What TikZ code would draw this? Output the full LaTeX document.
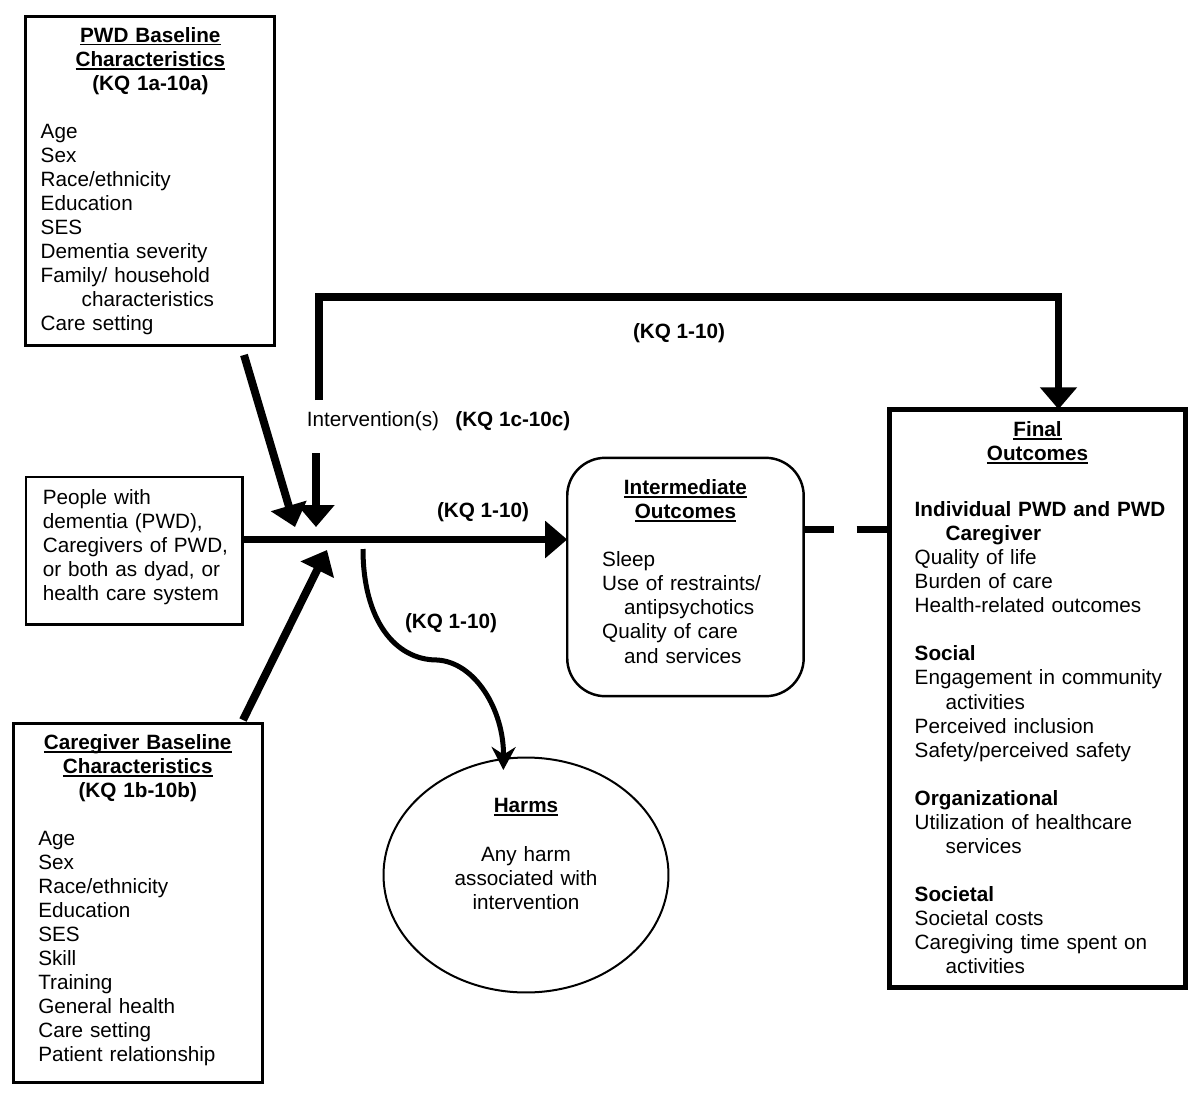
\documentclass[tikz,border=0pt]{standalone}
\usepackage{fontspec}
\setmainfont{Liberation Sans}
\usetikzlibrary{arrows.meta}
\usetikzlibrary{shapes.geometric}

\newcommand{\figfont}{\fontsize{11.78pt}{13.68pt}\selectfont}
\newcommand{\ulbold}[1]{\leavevmode\setbox0\hbox{\bfseries #1}\rlap{\rule[-1.9pt]{\wd0}{1.1pt}}\box0}
\newcommand{\padbelow}[1]{\rule[-#1]{0pt}{0pt}\par} % pushes the text up in its box

\tikzset{
  box/.style={draw, line width=1.7pt, inner sep=0pt, outer sep=0pt, font=\figfont},
  heavy/.style={line width=4.5pt, -{Triangle[length=0.44cm,width=0.72cm]}},
  harmflow/.style={line width=2.85pt, -{Stealth[length=0.46cm,width=0.48cm,inset=0.15cm]}, shorten >=-0.22cm},
  kq/.style={font=\figfont\bfseries, inner sep=0pt, anchor=base},
}

\begin{document}
\begin{tikzpicture}[x=0.02cm, y=-0.02cm]

  \fill[white] (0,0) rectangle (1200,1092);
  \useasboundingbox (0,0) rectangle (1200,1092);

  % boxes
  \node[box, minimum width=4.986cm, minimum height=6.572cm, text width=4.986cm] (pwd) at (150.35,181) {%
    {\centering\ulbold{PWD Baseline}\\ \ulbold{Characteristics}\\ \textbf{(KQ 1a-10a)}\par}
    \vspace{\baselineskip}
    \raggedright\leftskip=0.30cm
    Age\\ Sex\\ Race/ethnicity\\ Education\\ SES\\ Dementia severity\\ Family/ household\\
    \hspace*{0.82cm}characteristics\\ Care setting\par};

  \node[box, line width=1.5pt, minimum width=4.33cm, minimum height=2.954cm, text width=4.33cm] (people) at (134.05,550.85) {%
    \raggedright\leftskip=0.34cm
    People with\\ dementia (PWD),\\ Caregivers of PWD,\\ or both as dyad, or\\ health care system\padbelow{0.232cm}};

  \node[box, minimum width=4.978cm, minimum height=7.188cm, text width=4.978cm] (carer) at (137.75,903) {%
    {\centering\ulbold{Caregiver Baseline}\\ \ulbold{Characteristics}\\ \textbf{(KQ 1b-10b)}\par}
    \vspace{\baselineskip}
    \raggedright\leftskip=0.50cm
    Age\\ Sex\\ Race/ethnicity\\ Education\\ SES\\ Skill\\ Training\\ General health\\ Care setting\\ Patient relationship\padbelow{0.194cm}};

  \node[box, line width=1.4pt, rounded corners=0.76cm, minimum width=4.73cm, minimum height=4.768cm, text width=4.73cm] (inter) at (685.45,577) {%
    {\centering\ulbold{Intermediate}\\ \ulbold{Outcomes}\par}
    \vspace{\baselineskip}
    \raggedright\leftskip=0.70cm
    Sleep\\ Use of restraints/\\ \hspace*{0.44cm}antipsychotics\\ Quality of care\\ \hspace*{0.44cm}and services\padbelow{0.224cm}};

  \node[box, line width=2.85pt, minimum width=5.932cm, minimum height=11.572cm, text width=5.932cm] (final) at (1037.5,698.5) {%
    {\centering\ulbold{Final}\\ \ulbold{Outcomes}\par}
    \vspace{0.64cm}
    \raggedright\leftskip=0.51cm
    \textbf{Individual PWD and PWD}\\
    \hspace*{0.62cm}\textbf{Caregiver}\\
    Quality of life\\
    Burden of care\\
    Health-related outcomes\\[\baselineskip]
    \textbf{Social}\\
    Engagement in community\\
    \hspace*{0.62cm}activities\\
    Perceived inclusion\\
    Safety/perceived safety\\[\baselineskip]
    \textbf{Organizational}\\
    Utilization of healthcare\\
    \hspace*{0.62cm}services\\[\baselineskip]
    \textbf{Societal}\\
    Societal costs\\
    Caregiving time spent on\\
    \hspace*{0.62cm}activities\padbelow{0.038cm}};

  \node[box, ellipse, line width=1.14pt, minimum width=5.7cm, minimum height=4.7cm, text width=3.6cm] (harms) at (526,875) {%
    \centering\ulbold{Harms}\par
    \vspace{\baselineskip}
    Any harm\\ associated with\\ intervention\padbelow{0.844cm}};

  % labels
  \node[kq] (kqloop) at (679,338) {(KQ 1-10)};
  \node[kq] (kqmain) at (483,517.5) {(KQ 1-10)};
  \node[kq] (kqharm) at (451,628.5) {(KQ 1-10)};
  \node[font=\figfont, inner sep=0pt, anchor=base west] (interv) at (306.5,426.8) {Intervention(s)};
  \node[kq, anchor=base west] (kqinterv) at (455,426.8) {(KQ 1c-10c)};

  % free ends
  \coordinate (hub) at (300,539.5);
  \coordinate (pwdtail) at (244,355);
  \coordinate (pwdtip) at (295,527);
  \coordinate (intvtail) at (316,453);
  \coordinate (intvtip) at (316,527);
  \coordinate (carertail) at (243,720);
  \coordinate (carertip) at (327,550);
  \coordinate (loopstart) at (319,400);
  \coordinate (loopcorner) at (1058.5,297);
  \coordinate (harmstart) at (363,549);
  \coordinate (linky) at (845,529.5);

  % connectors
  \draw[heavy] (people.east |- hub) -- (inter.west |- hub);
  \draw[heavy] (pwdtail) -- (pwdtip);
  \draw[heavy, line width=4.3pt] (intvtail) -- (intvtip);
  \draw[heavy] (carertail) -- (carertip);
  \draw[heavy, line width=4pt, line join=miter] (loopstart) |- (loopcorner) -- (loopcorner |- final.north);
  \draw[harmflow] (harmstart) .. controls (363,620) and (395,660) .. (437,660)
     .. controls (475,662) and (504,710) .. (harms.101);
  \draw[line width=4.5pt, dash pattern=on 0.6cm off 0.46cm on 0.8cm] (inter.east |- linky) -- (final.west |- linky);

\end{tikzpicture}
\end{document}
